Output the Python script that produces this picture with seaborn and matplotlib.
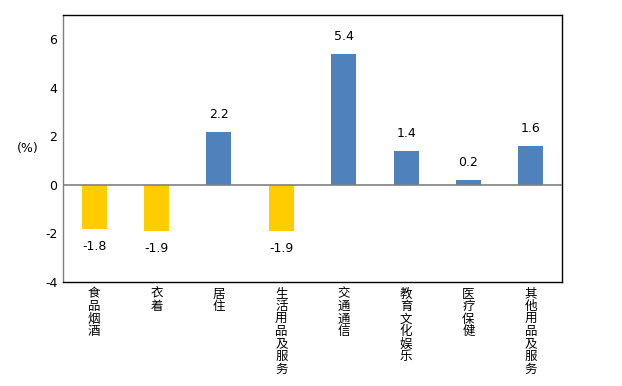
import matplotlib
matplotlib.use('Agg')
import matplotlib.pyplot as plt
import seaborn as sns
import pandas as pd

categories = ['食品烟酒', '衣着', '居住', '生活用品及服务', '交通通信', '教育文化娱乐', '医疗保健', '其他用品及服务']
values = [-1.8, -1.9, 2.2, -1.9, 5.4, 1.4, 0.2, 1.6]
yticks = [-4, -2, 0, 2, 4, 6]

sns.set_style('white')
plt.rcParams['font.family'] = ['Noto Sans CJK SC', 'DejaVu Sans']
plt.rcParams['text.color'] = 'black'
plt.rcParams['xtick.color'] = 'black'
plt.rcParams['ytick.color'] = 'black'

df = pd.DataFrame({'cat': categories, 'val': values})
df['sign'] = ['neg' if v < 0 else 'pos' for v in values]
palette = {'neg': '#FFCC00', 'pos': '#4F81BD'}

fig = plt.figure(figsize=(6.22, 3.86), dpi=100)
ax = fig.add_axes([0.1013, 0.2694, 0.8022, 0.6917])
sns.barplot(data=df, x='cat', y='val', hue='sign', palette=palette,
            dodge=False, width=0.4, legend=False, ax=ax, saturation=1,
            linewidth=0, edgecolor='none')

ax.set_ylim(-4, 7)
ax.set_yticks(yticks)
ax.set_yticklabels([str(t) for t in yticks], fontsize=9, family='DejaVu Sans')
ax.set_xlim(-0.5, len(categories) - 0.5)
ax.set_xticks(range(len(categories)))
ax.set_xticklabels(['\n'.join(c) for c in categories], fontsize=9,
                   linespacing=0.95, va='top')
ax.tick_params(axis='both', length=0, pad=4)
ax.set_xlabel('')
ax.set_ylabel('')
ax.axhline(0, color='#808080', lw=1.2, zorder=3)

for s in ['top', 'right', 'bottom']:
    ax.spines[s].set_color('black')
    ax.spines[s].set_linewidth(1.0)
ax.spines['left'].set_color('#808080')
ax.spines['left'].set_linewidth(1.0)

for i, v in enumerate(values):
    if v >= 0:
        ax.text(i, v + 0.45, f'{v:.1f}', ha='center', va='bottom', fontsize=9, family='DejaVu Sans')
    else:
        ax.text(i, v - 0.45, f'{v:.1f}', ha='center', va='top', fontsize=9, family='DejaVu Sans')

fig.text(0.045, 0.615, '(%)', fontsize=9, ha='center', va='center', family='DejaVu Sans')

fig.savefig('out.png', dpi=100)
